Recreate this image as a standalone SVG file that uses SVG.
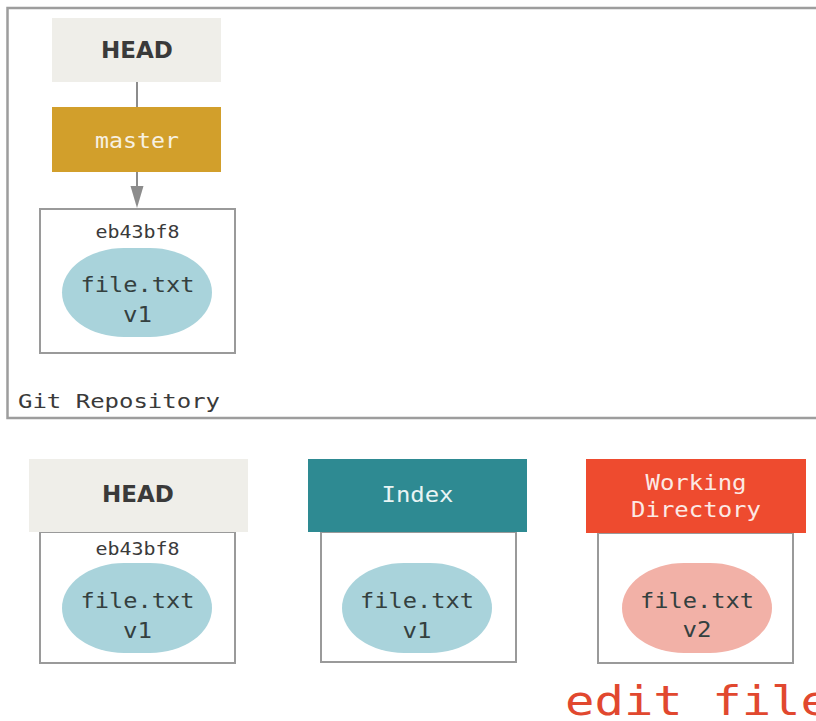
<svg xmlns="http://www.w3.org/2000/svg" width="816" height="721" viewBox="0 0 816 721">
<defs>
<style>
.mono{font-family:"DejaVu Sans Mono","Liberation Mono",monospace;}
.hd{font-family:"DejaVu Sans","Liberation Sans",sans-serif;font-weight:bold;font-size:23px;fill:#3a3a3a;text-anchor:middle;}
.box{fill:#ffffff;stroke:#9a9a9a;stroke-width:2;}
.blob1{fill:#a9d3db;}
.blob2{fill:#f2b1a7;}
.ft{font-size:21px;fill:#34403f;text-anchor:middle;}
.hash{font-size:18px;fill:#3a3a3a;text-anchor:middle;}
.conn{stroke:#8c8c8c;stroke-width:2;fill:none;}
</style>
<marker id="arr" markerWidth="14" markerHeight="22" refX="7" refY="21" orient="auto" markerUnits="userSpaceOnUse" viewBox="0 0 14 22">
<path d="M0,0 L14,0 L7,22 Z" fill="#8c8c8c"/>
</marker>
</defs>
<rect width="816" height="721" fill="#ffffff"/>

<g id="repo">
<path d="M818,8 L7.5,8 L7.5,418 L818,418" fill="none" stroke="#9d9d9d" stroke-width="2.5"/>
<text class="mono" x="18" y="408" font-size="19" fill="#3a3a3a" textLength="202" lengthAdjust="spacingAndGlyphs">Git Repository</text>
</g>

<g id="connectors">
<line class="conn" x1="137" y1="82" x2="137" y2="107"/>
<line class="conn" x1="137" y1="172" x2="137" y2="188"/>
<path d="M130.5,186 L143.5,186 L137,208 Z" fill="#8c8c8c"/>
</g>

<g id="head-top">
<rect x="52" y="18" width="169" height="64" fill="#efeee9"/>
<text class="hd" x="137" y="58">HEAD</text>
</g>

<g id="master">
<rect x="52" y="107" width="169" height="65" fill="#d29f2b"/>
<text class="mono" x="137" y="148" font-size="22" fill="#f7f1e2" text-anchor="middle" textLength="84" lengthAdjust="spacingAndGlyphs">master</text>
</g>

<g id="commit">
<rect class="box" x="40" y="209" width="195" height="144"/>
<text class="mono hash" x="137.5" y="238" textLength="84" lengthAdjust="spacingAndGlyphs">eb43bf8</text>
<rect class="blob1" x="62" y="248" width="150" height="89" rx="62" ry="44.5"/>
<text class="mono ft" x="137.5" y="292" textLength="114" lengthAdjust="spacingAndGlyphs">file.txt</text>
<text class="mono ft" x="137.5" y="322" textLength="29" lengthAdjust="spacingAndGlyphs">v1</text>
</g>

<g id="head-tree">
<rect class="box" x="40" y="532" width="195" height="131"/>
<rect x="29" y="459" width="219" height="73" fill="#efeee9"/>
<text class="hd" x="138" y="502">HEAD</text>
<text class="mono hash" x="137.5" y="555" textLength="84" lengthAdjust="spacingAndGlyphs">eb43bf8</text>
<rect class="blob1" x="62" y="563" width="150" height="90" rx="62" ry="45"/>
<text class="mono ft" x="137.5" y="608" textLength="114" lengthAdjust="spacingAndGlyphs">file.txt</text>
<text class="mono ft" x="137.5" y="638" textLength="29" lengthAdjust="spacingAndGlyphs">v1</text>
</g>

<g id="index">
<rect class="box" x="321" y="532" width="195" height="130"/>
<rect x="308" y="459" width="219" height="73" fill="#2e8a92"/>
<text class="mono" x="417.5" y="502" font-size="22" fill="#e9f4f4" text-anchor="middle" textLength="72" lengthAdjust="spacingAndGlyphs">Index</text>
<rect class="blob1" x="342" y="563" width="150" height="90" rx="62" ry="45"/>
<text class="mono ft" x="417" y="608" textLength="114" lengthAdjust="spacingAndGlyphs">file.txt</text>
<text class="mono ft" x="417" y="638" textLength="29" lengthAdjust="spacingAndGlyphs">v1</text>
</g>

<g id="working-directory">
<rect class="box" x="598" y="533" width="195" height="130"/>
<rect x="586" y="459" width="220" height="74" fill="#ee4b2f"/>
<text class="mono" x="696" y="490" font-size="21" fill="#fce9e4" text-anchor="middle" textLength="101" lengthAdjust="spacingAndGlyphs">Working</text>
<text class="mono" x="696" y="517" font-size="21" fill="#fce9e4" text-anchor="middle" textLength="130" lengthAdjust="spacingAndGlyphs">Directory</text>
<rect class="blob2" x="622" y="563" width="150" height="90" rx="62" ry="45"/>
<text class="mono ft" x="697" y="608" textLength="114" lengthAdjust="spacingAndGlyphs">file.txt</text>
<text class="mono ft" x="697" y="637" textLength="29" lengthAdjust="spacingAndGlyphs">v2</text>
</g>

<g id="edit-label">
<text class="mono" x="565" y="715" font-size="40" fill="#e1482f" textLength="265" lengthAdjust="spacingAndGlyphs">edit file</text>
</g>
</svg>
